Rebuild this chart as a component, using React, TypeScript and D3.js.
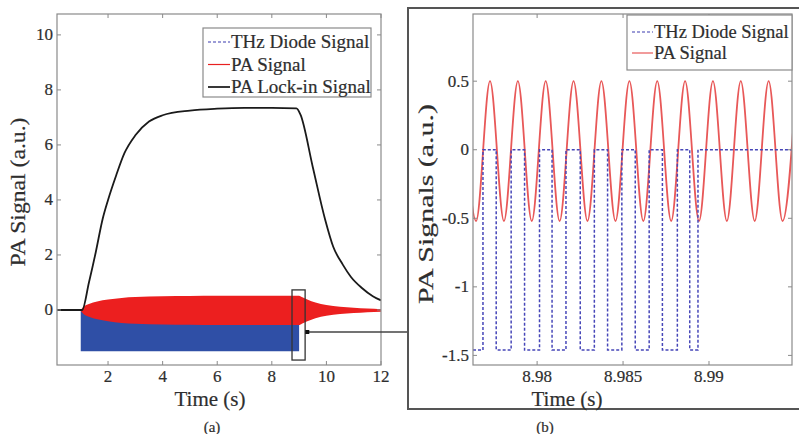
import React from "react";
import * as d3 from "d3";

// ---------- Panel (a) data ----------
const lockT = [0.13, 1.05, 1.3, 1.55, 1.8, 2.0, 2.3, 2.6, 3.0, 3.5, 4.0, 5.0, 6.0, 7.0, 8.0, 8.9, 9.05, 9.5, 9.95, 10.25, 10.6, 10.9, 11.3, 11.7, 12.0];
const lockV = [0, 0, 1.0, 2.1, 3.3, 4.0, 4.9, 5.7, 6.35, 6.85, 7.08, 7.25, 7.32, 7.35, 7.35, 7.33, 7.1, 5.2, 3.3, 2.3, 1.65, 1.2, 0.8, 0.5, 0.35];

const envT = [1.0, 1.1, 1.3, 1.6, 2.0, 2.5, 3.0, 4.0, 5.0, 6.0, 8.0, 9.0, 9.1, 9.3, 9.6, 10.0, 10.5, 11.0, 11.5, 12.0];
const envA = [0, 0.12, 0.22, 0.31, 0.38, 0.44, 0.47, 0.5, 0.51, 0.52, 0.52, 0.52, 0.47, 0.38, 0.27, 0.18, 0.12, 0.08, 0.05, 0.03];

const diodeOnStart = 1.0;
const diodeOnEnd = 9.0;
const diodeLow = -1.5;

const xTicksA = [2, 4, 6, 8, 10, 12];
const yTicksA = [0, 2, 4, 6, 8, 10];

const zoomBoxT = [8.74, 9.22];
const zoomBoxV = [0.73, -1.82];

// ---------- Panel (b) data ----------
const diodeT = [8.97627, 8.97685, 8.97762, 8.97849, 8.97927, 8.98014, 8.98087, 8.98168, 8.98251, 8.98333, 8.9841, 8.98493, 8.98571, 8.98652, 8.98729, 8.98816, 8.98888, 8.98936, 8.99483];
const diodeV = [-1.46, 0, -1.46, 0, -1.46, 0, -1.46, 0, -1.46, 0, -1.46, 0, -1.46, 0, -1.46, 0, -1.46, 0, 0];

const paT = [8.97564, 8.97645, 8.97726, 8.97807, 8.97888, 8.97969, 8.9805, 8.98131, 8.98212, 8.98293, 8.98374, 8.98456, 8.98537, 8.98618, 8.98699, 8.9878, 8.98861, 8.98942, 8.99023, 8.99104, 8.99185, 8.99266, 8.99347, 8.99428, 8.99509];
const paV = [0.5, -0.52, 0.5, -0.52, 0.5, -0.52, 0.5, -0.52, 0.5, -0.52, 0.5, -0.52, 0.5, -0.52, 0.5, -0.52, 0.5, -0.52, 0.5, -0.52, 0.5, -0.52, 0.5, -0.52, 0.5];

const xTicksB = [8.98, 8.985, 8.99];
const yTicksB = [-1.5, -1, -0.5, 0, 0.5];

const legendA = ["THz Diode Signal", "PA Signal", "PA Lock-in Signal"];
const legendB = ["THz Diode Signal", "PA Signal"];

const FONT = "'Liberation Serif', 'Times New Roman', serif";
const TXT = "#2e2e2e";
const AXC = "#8a8a8a";
const T = { fill: TXT, fontFamily: FONT, stroke: TXT, strokeWidth: 0.2 };

function Axes({ x, y, xt, yt, fmt }: any) {
  const [x0, x1] = x.range();
  const [y0, y1] = y.range();
  const tl = 4;
  return (
    <g>
      <rect x={x0} y={y1} width={x1 - x0} height={y0 - y1} fill="none" stroke={AXC} strokeWidth={1.2} />
      {xt.map((t: number) => (
        <g key={"x" + t}>
          <line x1={x(t)} x2={x(t)} y1={y0} y2={y0 - tl} stroke={AXC} />
          <line x1={x(t)} x2={x(t)} y1={y1} y2={y1 + tl} stroke={AXC} />
          <text x={x(t)} y={y0 + 17} textAnchor="middle" fontSize={17} {...T}>
            {fmt(t)}
          </text>
        </g>
      ))}
      {yt.map((t: number) => (
        <g key={"y" + t}>
          <line x1={x0} x2={x0 + tl} y1={y(t)} y2={y(t)} stroke={AXC} />
          <line x1={x1} x2={x1 - tl} y1={y(t)} y2={y(t)} stroke={AXC} />
          <text x={x0 - 4} y={y(t) + 5.5} textAnchor="end" fontSize={17} {...T}>
            {fmt(t)}
          </text>
        </g>
      ))}
    </g>
  );
}

export default function App() {
  const xA = d3.scaleLinear().domain([0.13, 12]).range([57, 381]);
  const yA = d3.scaleLinear().domain([-2, 10.76]).range([365, 14]);
  const xB = d3.scaleLinear().domain([8.97627, 8.99483]).range([473, 792]);
  const yB = d3.scaleLinear().domain([-1.57, 0.99]).range([365, 14]);

  const lockLine = d3.line<number>().x((_, i) => xA(lockT[i])).y((v) => yA(v)).curve(d3.curveMonotoneX)(lockV) as string;
  const envArea = d3.area<number>().x((_, i) => xA(envT[i])).y0((a) => yA(-a - 0.03)).y1((a) => yA(a)).curve(d3.curveMonotoneX)(envA) as string;
  const diodeLine = d3.line<number>().x((_, i) => xB(diodeT[i])).y((v) => yB(v)).curve(d3.curveStepAfter)(diodeV) as string;
  const paLine = d3.line<number>().x((_, i) => xB(paT[i])).y((v) => yB(v)).curve(d3.curveMonotoneX)(paV) as string;

  const fmt = (d: number) => String(d);

  const bx = xA(zoomBoxT[0]);
  const bw = xA(zoomBoxT[1]) - bx;
  const by = yA(zoomBoxV[0]);
  const bh = yA(zoomBoxV[1]) - by;
  const connY = yA(-0.8);
  const connX0 = xA(9.3);

  return (
    <svg width={799} height={434} style={{ position: "absolute", left: 0, top: 0, background: "#fff" }}>
      <defs>
        <clipPath id="clipB"><rect x={473} y={14} width={319} height={351} /></clipPath>
        <clipPath id="clipA"><rect x={57} y={14} width={324} height={351} /></clipPath>
      </defs>
      <rect x={0} y={0} width={799} height={434} fill="#fff" />

      {/* ---------- Panel (a) ---------- */}
      <g clipPath="url(#clipA)">
        <line x1={xA(0.13)} x2={xA(diodeOnStart)} y1={yA(0)} y2={yA(0)} stroke="#2f4fa6" strokeWidth={1.5} />
        <rect x={xA(diodeOnStart)} y={yA(0)} width={xA(diodeOnEnd) - xA(diodeOnStart)} height={yA(diodeLow) - yA(0)} fill="#2f4fa6" />
        <line x1={xA(diodeOnEnd)} x2={xA(12)} y1={yA(0)} y2={yA(0)} stroke="#2f4fa6" strokeWidth={1} />
        <path d={envArea} fill="#ec1f1f" />
        <line x1={xA(0.13)} x2={xA(1.0)} y1={yA(0)} y2={yA(0)} stroke="#ec1f1f" strokeWidth={1.5} />
        <path d={lockLine} fill="none" stroke="#1a1a1a" strokeWidth={1.8} />
      </g>
      <Axes x={xA} y={yA} xt={xTicksA} yt={yTicksA} fmt={fmt} />

      <rect x={bx} y={by} width={bw} height={bh} fill="none" stroke="#333" strokeWidth={1.3} />
      <line x1={connX0} x2={408} y1={connY} y2={connY} stroke="#444" strokeWidth={1.5} />
      <rect x={connX0 - 2} y={connY - 2} width={4} height={4} fill="#111" />

      <rect x={203} y={28} width={168} height={69} fill="#fff" stroke={AXC} strokeWidth={1.2} />
      {legendA.map((s, i) => {
        const cy = 42 + i * 22.5;
        const col = i === 0 ? "#3a3ab0" : i === 1 ? "#e82020" : "#222";
        return (
          <g key={s}>
            <line x1={208} x2={230} y1={cy} y2={cy} stroke={col} strokeWidth={i === 2 ? 1.8 : 1.2} strokeDasharray={i === 0 ? "3,2" : undefined} />
            <text x={231} y={cy + 6} fontSize={19} {...T}>{s}</text>
          </g>
        );
      })}

      <text x={20} y={192} transform="rotate(-90 20 192)" textAnchor="middle" dominantBaseline="middle" fontSize={22} textLength={149} lengthAdjust="spacingAndGlyphs" {...T}>PA Signal (a.u.)</text>
      <text x={210} y={406} textAnchor="middle" fontSize={21} {...T}>Time (s)</text>
      <text x={212} y={432} textAnchor="middle" fontSize={15} {...T}>(a)</text>

      {/* ---------- Panel (b) ---------- */}
      <rect x={408} y={8} width={400} height={401} fill="none" stroke="#555" strokeWidth={2} />
      <g clipPath="url(#clipB)">
        <path d={paLine} fill="none" stroke="#e85858" strokeWidth={1.8} />
        <path d={diodeLine} fill="none" stroke="#4646b8" strokeWidth={1.5} strokeDasharray="3,2" />
      </g>
      <Axes x={xB} y={yB} xt={xTicksB} yt={yTicksB} fmt={fmt} />

      <rect x={627} y={15} width={165} height={55} fill="#fff" stroke={AXC} strokeWidth={1.2} />
      {legendB.map((s, i) => {
        const cy = 32 + i * 21;
        const col = i === 0 ? "#3a3ab0" : "#e85858";
        return (
          <g key={s}>
            <line x1={632} x2={653} y1={cy} y2={cy} stroke={col} strokeWidth={1.2} strokeDasharray={i === 0 ? "3,2" : undefined} />
            <text x={654} y={cy + 6} fontSize={18.5} {...T}>{s}</text>
          </g>
        );
      })}

      <text x={428} y={204} transform="rotate(-90 428 204)" textAnchor="middle" dominantBaseline="middle" fontSize={21} textLength={200} lengthAdjust="spacingAndGlyphs" {...T}>PA Signals (a.u.)</text>
      <text x={567} y={406} textAnchor="middle" fontSize={21} {...T}>Time (s)</text>
      <text x={545} y={432} textAnchor="middle" fontSize={15} {...T}>(b)</text>
    </svg>
  );
}
